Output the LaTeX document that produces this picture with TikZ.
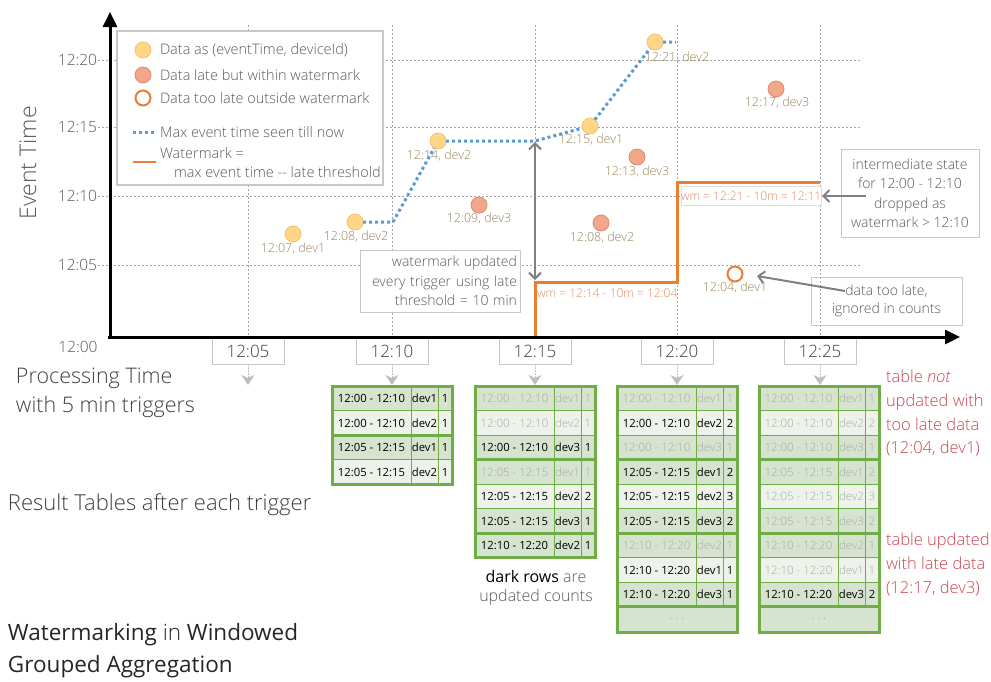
\documentclass[tikz,border=0pt]{standalone}
\usepackage{fontspec}
\IfFontExistsTF{Open Sans Light}
  {\setmainfont{Open Sans Light}}
  {\setmainfont{Open Sans}}
\newfontfamily\regfont{Open Sans}
\usetikzlibrary{arrows.meta}

\definecolor{gridgray}{HTML}{A6A6A6}
\definecolor{boxgray}{HTML}{C8C8C8}
\definecolor{notegray}{HTML}{595959}
\definecolor{labgray}{HTML}{404040}
\definecolor{arrgray}{HTML}{808080}
\definecolor{arrlight}{HTML}{BFBFBF}
\definecolor{yfill}{HTML}{FFD685}
\definecolor{yedge}{HTML}{F4C26A}
\definecolor{rfill}{HTML}{F2A68A}
\definecolor{redge}{HTML}{E28A6C}
\definecolor{orng}{HTML}{ED7D31}
\definecolor{wmtext}{HTML}{E08A5E}
\definecolor{blu}{HTML}{5B9BD5}
\definecolor{plab}{HTML}{97845A}
\definecolor{tgreen}{HTML}{70AD47}
\definecolor{rowdk}{HTML}{D6E4CF}
\definecolor{rowlt}{HTML}{EDF3EA}
\definecolor{oldtxt}{HTML}{A8A8A8}
\definecolor{redtxt}{HTML}{C9464F}

% one row of a result table: name, left x, top y, fill, text style, window, device, count
\newcommand\trow[8]{%
  \fill[#4] (#2,#3) rectangle ++(120,24.5);
  \node[#5] (#1a) at ({#2+39.5},{#3+12.5}) {#6};
  \node[#5] (#1b) at ({#2+92.5},{#3+12.5}) {#7};
  \node[#5] (#1c) at ({#2+113},{#3+12.5}) {#8};
}
% ruling of a result table: left x, bottom of data rows, bottom of table
\newcommand\tgrid[3]{%
  \foreach \ry in {410.5,435,459.5,484,508.5,533,557.5,582}{%
    \ifdim\ry pt<#2pt \draw[tthin] (#1,\ry) -- ++(120,0);\fi}
  \draw[tthin] ({#1+79},386) -- ({#1+79},#2);
  \draw[tthin] ({#1+106},386) -- ({#1+106},#2);
  \draw[tthick] (#1,386) rectangle ({#1+120},#3);
}

\begin{document}
\begin{tikzpicture}[x=1pt,y=-1pt,
  every node/.style={inner sep=0pt, outer sep=0pt},
  gridline/.style={draw=gridgray, line width=0.8pt, dash pattern=on 2pt off 2pt},
  axisline/.style={line width=3pt, -{Triangle[length=15pt,width=14pt]}},
  ptdot/.style={circle, minimum size=16pt, line width=0.8pt},
  ontime/.style={ptdot, fill=yfill, draw=yedge},
  latept/.style={ptdot, fill=rfill, draw=redge},
  toolate/.style={circle, minimum size=15pt, fill=white, draw=orng, line width=2pt},
  plabel/.style={font=\fontsize{12.5}{14}\selectfont, text=plab},
  maxline/.style={draw=blu, line width=3pt, dash pattern=on 3pt off 3pt},
  wmline/.style={draw=orng, line width=3pt},
  wmlabel/.style={font=\fontsize{12}{14}\selectfont, text=wmtext},
  notebox/.style={draw=boxgray, fill=white, line width=0.8pt, text=notegray,
    font=\fontsize{14}{19.5}\selectfont, align=center},
  callout/.style={draw=arrgray, line width=2pt, -{Straight Barb[length=6pt,width=12pt]}},
  dblarrow/.style={draw=arrgray, line width=2pt,
    {Straight Barb[length=6pt,width=12pt]}-{Straight Barb[length=6pt,width=12pt]}},
  tickbox/.style={draw=boxgray, fill=white, line width=0.8pt, minimum width=72pt,
    minimum height=26pt, font=\fontsize{17}{19}\selectfont, text=labgray},
  trig/.style={draw=arrlight, line width=1pt, dash pattern=on 1.5pt off 1.5pt,
    -{Stealth[length=10pt,width=13pt,inset=3pt]}},
  ylab/.style={font=\fontsize{15.5}{17}\selectfont, text=notegray},
  legtext/.style={font=\fontsize{14.5}{17}\selectfont, text=notegray, anchor=west},
  bigtext/.style={font=\fontsize{21.5}{29}\selectfont, text=labgray, align=left},
  redtext/.style={font=\fontsize{16.5}{23.8}\selectfont, text=redtxt, align=left, anchor=north west},
  oldcell/.style={font=\fontsize{11.5}{13}\selectfont, text=oldtxt},
  newcell/.style={font=\regfont\fontsize{11.3}{13}\selectfont, text=black},
  tthin/.style={draw=tgreen, line width=1pt},
  tthick/.style={draw=tgreen, line width=3pt}]

\useasboundingbox (0,0) rectangle (991,681);

% ---------- grid ----------
\foreach \gy in {60,127,196,265} \draw[gridline] (98,\gy) -- (862,\gy);
\foreach \gx in {248,392,535,677,820} \draw[gridline] (\gx,25) -- (\gx,337);

% event time labels
\node[ylab, anchor=east] (y20) at (97,60) {12:20};
\node[ylab, anchor=east] (y15) at (97,127) {12:15};
\node[ylab, anchor=east] (y10) at (97,196) {12:10};
\node[ylab, anchor=east] (y05) at (97,265) {12:05};
\node[ylab] (y00) at (78,347) {12:00};

% ---------- legend ----------
\node[draw=boxgray, fill=white, line width=1.2pt, minimum width=266pt, minimum height=154pt] (legend) at (250,108) {};
\node[ontime] (lg1) at (143,50) {};
\node[latept] (lg2) at (143,75) {};
\node[toolate] (lg3) at (143,98) {};
\coordinate (lgb1) at (133,132); \coordinate (lgb2) at (156,132);
\draw[maxline] (lgb1) -- (lgb2);
\coordinate (lgo1) at (133,162); \coordinate (lgo2) at (156,162);
\draw[wmline, line width=2pt] (lgo1) -- (lgo2);
\node[legtext] (lt1) at (160,50) {Data as (eventTime, deviceId)};
\node[legtext] (lt2) at (160,75) {Data late but within watermark};
\node[legtext] (lt3) at (160,98) {Data too late outside watermark};
\node[legtext] (lt4) at (160,132) {Max event time seen till now};
\node[legtext] (lt5) at (160,153) {Watermark =};
\node[legtext] (lt6) at (174,172) {max event time -{}- late threshold};

% ---------- notes ----------
\node[notebox, align=right, text width=154pt, minimum width=160pt, minimum height=62pt, inner xsep=3pt]
  (wmnote) at (440,281) {watermark updated\\every trigger using late\\threshold = 10 min};
\node[notebox, minimum width=138pt, minimum height=88pt] (dropnote) at (910,193)
  {intermediate state\\for 12:00 - 12:10\\dropped as\\watermark > 12:10};
\node[notebox, fill=none, minimum width=151pt, minimum height=48pt,
  font=\fontsize{14}{17.5}\selectfont] (latenote) at (886.5,301)
  {data too late,\\ignored in counts};

% ---------- watermark ----------
\coordinate (w0) at (535,337);
\coordinate (w1) at (535,282);
\coordinate (w2) at (677,282);
\coordinate (w3) at (677,182);
\coordinate (w4) at (820,182);
\draw[wmline] (w0) -- (w1) -- (w2) -- (w3) -- (w4);
\node[wmlabel, anchor=west] (wm1) at (537,293) {wm = 12:14 - 10m = 12:04};
\node[wmlabel, draw=boxgray!60, fill=white, line width=0.6pt, minimum width=137pt, minimum height=19pt]
  (wm2) at (751,196) {wm = 12:21 - 10m = 12:11};

% ---------- data points ----------
\node[ontime] (p1) at (293,234) {};
\node[ontime] (p2) at (355,222) {};
\node[ontime] (p3) at (438,141) {};
\node[latept] (p4) at (479,205) {};
\node[ontime] (p5) at (590,126) {};
\node[ontime] (p6) at (655,42) {};
\node[latept] (p7) at (637,157) {};
\node[latept] (p8) at (601,223) {};
\node[latept] (p9) at (776,89) {};
\node[toolate] (p10) at (735,274) {};

\node[plabel] (l1) at (293,249) {12:07, dev1};
\node[plabel] (l2) at (356,237) {12:08, dev2};
\node[plabel] (l3) at (439,156) {12:14, dev2};
\node[plabel] (l4) at (479,219) {12:09, dev3};
\node[plabel] (l5) at (591,140) {12:15, dev1};
\node[plabel] (l6) at (677,58) {12:21, dev2};
\node[plabel] (l7) at (637,172) {12:13, dev3};
\node[plabel] (l8) at (602,238) {12:08, dev2};
\node[plabel] (l9) at (777,103) {12:17, dev3};
\node[plabel] (l10) at (735,288) {12:04, dev1};

% max event time seen so far
\coordinate (b1) at (393,222);
\coordinate (b2) at (535,141);
\coordinate (b3) at (676,42);
\draw[maxline] (p2) -- (b1) -- (p3) -- (b2) -- (p5) -- (p6) -- (b3);

% callout arrows
\coordinate (da1) at (535,142);
\coordinate (da2) at (535,280);
\draw[dblarrow] (da1) -- (da2);
\coordinate (ds) at (866,196);
\coordinate (de) at (822,196);
\draw[callout] (ds) -- (de);
\coordinate (ls) at (845,291);
\coordinate (le) at (757,276);
\draw[callout] (ls) -- (le);

% ---------- trigger labels ----------
\node[tickbox] (t05) at (248,351) {12:05};
\node[tickbox] (t10) at (392,351) {12:10};
\node[tickbox] (t15) at (535,351) {12:15};
\node[tickbox] (t20) at (677,351) {12:20};
\node[tickbox] (t25) at (820,351) {12:25};
\coordinate (a05) at (248,385);
\coordinate (a10) at (392,385);
\coordinate (a15) at (535,385);
\coordinate (a20) at (677,385);
\coordinate (a25) at (820,385);
\draw[trig] (t05.south) -- (a05);
\draw[trig] (t10.south) -- (a10);
\draw[trig] (t15.south) -- (a15);
\draw[trig] (t20.south) -- (a20);
\draw[trig] (t25.south) -- (a25);

% ---------- axes ----------
\coordinate (origin) at (110,337);
\coordinate (ytop) at (110,12);
\coordinate (xend) at (960,337);
\draw[axisline] (110,339) -- (ytop);
\draw[axisline] (108,337) -- (xend);

% ---------- side texts ----------
\node[bigtext, rotate=90, text=notegray, font=\fontsize{23}{25}\selectfont] (ylabel) at (28,163) {Event Time};
\node[bigtext, anchor=west] (xlabel) at (16,393) {Processing Time\\with 5 min triggers};
\node[bigtext, anchor=west, font=\fontsize{22}{25}\selectfont] (restitle) at (8,505) {Result Tables after each trigger};
\node[font=\fontsize{22.5}{32}\selectfont, text=black!85, align=left, anchor=west] (title) at (8,651)
  {{\regfont Watermarking} in {\regfont Windowed}\\{\regfont Grouped Aggregation}};

\node[redtext] (rnote1) at (886,370) {table \emph{not}\\updated with\\too late data\\(12:04, dev1)};
\node[redtext] (rnote2) at (886,533) {table updated\\with late data\\(12:17, dev3)};

% ---------- result table after 12:10 ----------
\trow{ra1}{332}{386}{rowdk}{newcell}{12:00 - 12:10}{dev1}{1}
\trow{ra2}{332}{410.5}{rowlt}{newcell}{12:00 - 12:10}{dev2}{1}
\trow{ra3}{332}{435}{rowdk}{newcell}{12:05 - 12:15}{dev1}{1}
\trow{ra4}{332}{459.5}{rowlt}{newcell}{12:05 - 12:15}{dev2}{1}
\tgrid{332}{484}{484}
\draw[tthick] (332,435) -- ++(120,0);

% ---------- result table after 12:15 ----------
\trow{rb1}{475}{386}{rowdk}{oldcell}{12:00 - 12:10}{dev1}{1}
\trow{rb2}{475}{410.5}{rowlt}{oldcell}{12:00 - 12:10}{dev2}{1}
\trow{rb3}{475}{435}{rowdk}{newcell}{12:00 - 12:10}{dev3}{1}
\trow{rb4}{475}{459.5}{rowdk}{oldcell}{12:05 - 12:15}{dev1}{1}
\trow{rb5}{475}{484}{rowlt}{newcell}{12:05 - 12:15}{dev2}{2}
\trow{rb6}{475}{508.5}{rowdk}{newcell}{12:05 - 12:15}{dev3}{1}
\trow{rb7}{475}{533}{rowdk}{newcell}{12:10 - 12:20}{dev2}{1}
\tgrid{475}{557.5}{557.5}
\draw[tthick] (475,459.5) -- ++(120,0);
\draw[tthick] (475,533) -- ++(120,0);
\node[font=\fontsize{16}{19.5}\selectfont, text=notegray, align=center] (darknote) at (536,588)
  {{\regfont\color{black}dark rows} are\\updated counts};

% ---------- result table after 12:20 ----------
\trow{rc1}{617}{386}{rowdk}{oldcell}{12:00 - 12:10}{dev1}{1}
\trow{rc2}{617}{410.5}{rowlt}{newcell}{12:00 - 12:10}{dev2}{2}
\trow{rc3}{617}{435}{rowdk}{oldcell}{12:00 - 12:10}{dev3}{1}
\trow{rc4}{617}{459.5}{rowdk}{newcell}{12:05 - 12:15}{dev1}{2}
\trow{rc5}{617}{484}{rowlt}{newcell}{12:05 - 12:15}{dev2}{3}
\trow{rc6}{617}{508.5}{rowdk}{newcell}{12:05 - 12:15}{dev3}{2}
\trow{rc7}{617}{533}{rowdk}{oldcell}{12:10 - 12:20}{dev2}{1}
\trow{rc8}{617}{557.5}{rowlt}{newcell}{12:10 - 12:20}{dev1}{1}
\trow{rc9}{617}{582}{rowdk}{newcell}{12:10 - 12:20}{dev3}{1}
\fill[rowdk] (617,606.5) rectangle (737,632);
\node[oldcell, font=\fontsize{14}{14}\selectfont] (rcdots) at (677,619) {.\,.\,.};
\tgrid{617}{606.5}{632}
\draw[tthick] (617,459.5) -- ++(120,0);
\draw[tthick] (617,533) -- ++(120,0);
\draw[tthick] (617,606.5) -- ++(120,0);

% ---------- result table after 12:25 ----------
\trow{rd1}{759}{386}{rowdk}{oldcell}{12:00 - 12:10}{dev1}{1}
\trow{rd2}{759}{410.5}{rowlt}{oldcell}{12:00 - 12:10}{dev2}{2}
\trow{rd3}{759}{435}{rowdk}{oldcell}{12:00 - 12:10}{dev3}{1}
\trow{rd4}{759}{459.5}{rowdk}{oldcell}{12:05 - 12:15}{dev1}{2}
\trow{rd5}{759}{484}{rowlt}{oldcell}{12:05 - 12:15}{dev2}{3}
\trow{rd6}{759}{508.5}{rowdk}{oldcell}{12:05 - 12:15}{dev3}{2}
\trow{rd7}{759}{533}{rowdk}{oldcell}{12:10 - 12:20}{dev2}{1}
\trow{rd8}{759}{557.5}{rowlt}{oldcell}{12:10 - 12:20}{dev1}{1}
\trow{rd9}{759}{582}{rowdk}{newcell}{12:10 - 12:20}{dev3}{2}
\fill[rowdk] (759,606.5) rectangle (879,632);
\node[oldcell, font=\fontsize{14}{14}\selectfont] (rddots) at (819,619) {.\,.\,.};
\tgrid{759}{606.5}{632}
\draw[tthick] (759,459.5) -- ++(120,0);
\draw[tthick] (759,533) -- ++(120,0);
\draw[tthick] (759,606.5) -- ++(120,0);

\end{tikzpicture}
\end{document}
